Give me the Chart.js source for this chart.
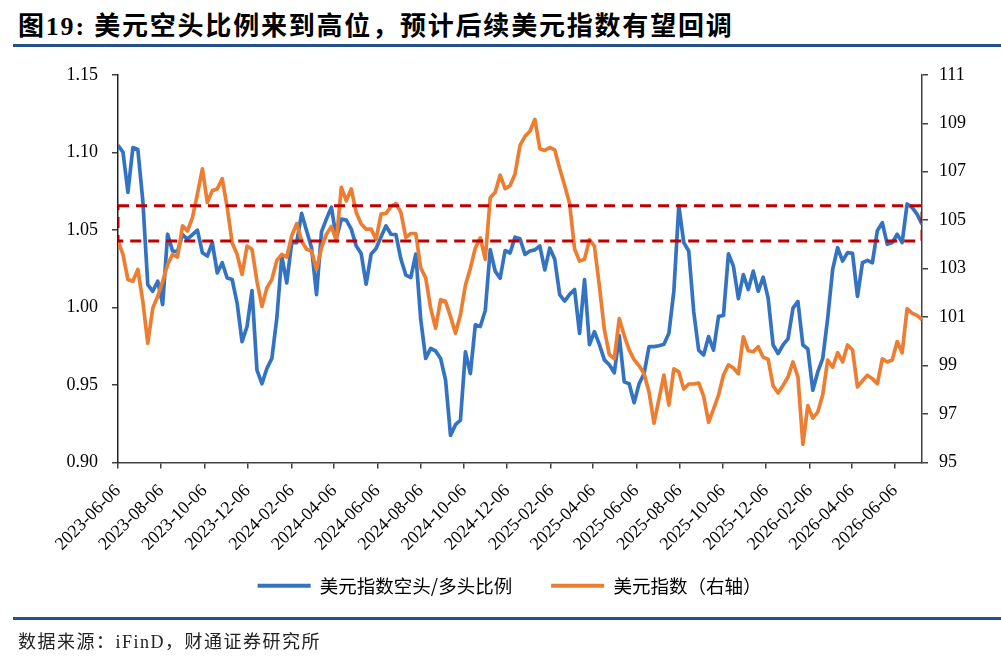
<!DOCTYPE html>
<html>
<head>
<meta charset="utf-8">
<script src="https://cdn.jsdelivr.net/npm/chart.js@4/dist/chart.umd.min.js"></script>
<style>
  html, body { margin: 0; padding: 0; background: #fff; }
  body { width: 1001px; height: 667px; position: relative; overflow: hidden; }
  #title {
    position: absolute; left: 18px; top: 14px;
    font: bold 26px/26px "Liberation Serif", "Noto Sans CJK SC", serif;
    letter-spacing: 1.8px; color: #000; white-space: nowrap;
  }
  .rule { position: absolute; left: 13px; right: 0; height: 3px; background: #24508c; }
  #source {
    position: absolute; left: 18px; top: 632px;
    font: 18px/20px "Liberation Serif", "Noto Sans CJK SC", serif;
    letter-spacing: 1.5px; color: #222; white-space: nowrap;
  }
  #chartBox { position: absolute; left: 0; top: 50px; width: 1001px; height: 589px; }
</style>
</head>
<body>
<div id="title">图19: 美元空头比例来到高位，预计后续美元指数有望回调</div>
<div class="rule" style="top:44px"></div>
<div id="chartBox"><canvas id="chart"></canvas></div>
<div class="rule" style="top:617px"></div>
<div id="source">数据来源：iFinD，财通证券研究所</div>

<script>
// weekly data, first week = 2023-06-06
const ratioValues = [
  1.1045, 1.1002, 1.0742, 1.1031, 1.1018, 1.0688, 1.0147, 1.0104, 1.0169, 1.0018,
  1.0472, 1.0364, 1.0360, 1.0470, 1.0440, 1.0470, 1.0498, 1.0353, 1.0331, 1.0418,
  1.0223, 1.0288, 1.0190, 1.0180, 1.0028, 0.9779, 0.9877, 1.0109, 0.9596, 0.9508,
  0.9606, 0.9671, 0.9930, 1.0331, 1.0158, 1.0418, 1.0418, 1.0606, 1.0494, 1.0385,
  1.0083, 1.0487, 1.0571, 1.0646, 1.0445, 1.0569, 1.0563, 1.0505, 1.0396, 1.0347,
  1.0150, 1.0344, 1.0380, 1.0455, 1.0526, 1.0472, 1.0470, 1.0312, 1.0208, 1.0193,
  1.0344, 0.9922, 0.9671, 0.9736, 0.9719, 0.9671, 0.9532, 0.9175, 0.9244, 0.9273,
  0.9714, 0.9573, 0.9888, 0.9877, 0.9980, 1.0373, 1.0234, 1.0188, 1.0367, 1.0351,
  1.0453, 1.0443, 1.0342, 1.0364, 1.0371, 1.0396, 1.0242, 1.0383, 1.0310, 1.0082,
  1.0041, 1.0084, 1.0115, 0.9833, 1.0180, 0.9760, 0.9844, 0.9760, 0.9662, 0.9630,
  0.9578, 0.9818, 0.9520, 0.9508, 0.9385, 0.9508, 0.9573, 0.9747, 0.9747, 0.9753,
  0.9762, 0.9833, 1.0104, 1.0656, 1.0418, 1.0364, 0.9974, 0.9725, 0.9693, 0.9812,
  0.9725, 0.9942, 0.9948, 1.0346, 1.0266, 1.0057, 1.0212, 1.0115, 1.0234, 1.0104,
  1.0195, 1.0060, 0.9758, 0.9703, 0.9758, 0.9797, 0.9995, 1.0039, 0.9758, 0.9732,
  0.9466, 0.9584, 0.9671, 0.9930, 1.0245, 1.0385, 1.0299, 1.0353, 1.0349, 1.0071,
  1.0288, 1.0303, 1.0288, 1.0494, 1.0547, 1.0407, 1.0418, 1.0472, 1.0418, 1.0667,
  1.0645, 1.0602, 1.0537
];

const dxyValues = [
  104.14, 103.59, 102.55, 102.48, 102.97, 101.65, 99.92, 101.37, 101.86, 102.48,
  103.17, 103.59, 103.48, 104.77, 104.56, 105.11, 106.08, 107.12, 105.73, 106.22,
  106.29, 106.71, 105.53, 104.07, 103.59, 102.76, 103.93, 103.80, 102.48, 101.44,
  102.20, 102.55, 103.34, 103.59, 103.48, 104.35, 104.86, 104.14, 103.80, 103.73,
  102.97, 103.86, 104.42, 104.74, 104.14, 106.36, 105.80, 106.29, 105.32, 104.84,
  104.63, 104.63, 104.21, 105.25, 105.28, 105.56, 105.69, 105.32, 104.28, 104.45,
  104.45, 103.03, 102.62, 101.37, 100.54, 101.72, 101.65, 101.02, 100.33, 101.10,
  102.31, 103.02, 103.85, 104.27, 103.38, 105.93, 106.15, 106.86, 106.30, 106.43,
  106.91, 108.09, 108.46, 108.67, 109.16, 107.95, 107.88, 108.00, 107.90, 107.13,
  106.43, 105.68, 103.81, 103.31, 103.39, 104.20, 103.93, 102.27, 100.48, 99.45,
  99.28, 100.94, 100.24, 99.65, 99.24, 98.99, 98.66, 97.91, 96.62, 97.62,
  98.61, 97.37, 98.86, 98.74, 98.03, 98.24, 98.24, 98.28, 97.74, 96.66,
  97.20, 97.78, 98.61, 99.03, 98.90, 98.66, 100.19, 99.61, 99.57, 99.78,
  99.34, 99.26, 98.16, 97.87, 98.18, 98.53, 99.15, 98.53, 95.75, 97.35,
  96.83, 97.08, 97.80, 99.23, 98.93, 99.53, 99.15, 99.85, 99.64, 98.12,
  98.37, 98.60, 98.46, 98.25, 99.28, 99.15, 99.23, 99.99, 99.53, 101.35,
  101.16, 101.07, 100.90
];

// high-zone band drawn as a dashed box on the left axis
const bandTop = 1.0656;
const bandBottom = 1.0429;

const tickLabels = [
  '2023-06-06', '2023-08-06', '2023-10-06', '2023-12-06', '2024-02-06', '2024-04-06',
  '2024-06-06', '2024-08-06', '2024-10-06', '2024-12-06', '2025-02-06', '2025-04-06',
  '2025-06-06', '2025-08-06', '2025-10-06', '2025-12-06', '2026-02-06', '2026-04-06',
  '2026-06-06'
];

const leftTicks = { min: 0.90, max: 1.15, step: 0.05 };
const rightTicks = { min: 95, max: 111, step: 2 };
const lastWeek = 162;

const BLUE = '#3473c2';
const ORANGE = '#ed7d31';
const RED = '#c00000';
const AXIS = '#404040';

const startDay = Date.UTC(2023, 5, 6);
const weekOf = (s) => {
  const [y, m, d] = s.split('-').map(Number);
  return (Date.UTC(y, m - 1, d) - startDay) / (7 * 864e5);
};
const tickWeeks = tickLabels.map(weekOf);

const toPoints = (vals) => vals.map((v, i) => ({ x: i, y: v }));
const bandPoints = [
  { x: 0, y: bandTop }, { x: lastWeek, y: bandTop },
  { x: lastWeek, y: bandBottom }, { x: 0, y: bandBottom }, { x: 0, y: bandTop }
];

const tickFont = { family: '"Liberation Serif", "Times New Roman", serif', size: 18 };

// x axis needs room for the slanted dates; pull the legend back up under them
const legendLift = {
  id: 'legendLift',
  afterLayout(chart) {
    const lg = chart.legend;
    lg.top -= 17;
    lg.bottom -= 17;
    lg.left += 9;
    lg.right += 9;
  }
};

new Chart(document.getElementById('chart'), {
  type: 'line',
  plugins: [legendLift],
  data: {
    datasets: [
      {
        label: '美元指数空头/多头比例',
        data: toPoints(ratioValues),
        yAxisID: 'y',
        borderColor: BLUE,
        backgroundColor: BLUE,
        borderWidth: 3.7,
        borderJoinStyle: 'round',
        pointRadius: 0,
        order: 2
      },
      {
        label: '美元指数（右轴）',
        data: toPoints(dxyValues),
        yAxisID: 'y1',
        borderColor: ORANGE,
        backgroundColor: ORANGE,
        borderWidth: 3.7,
        borderJoinStyle: 'round',
        pointRadius: 0,
        order: 1
      },
      {
        label: 'band',
        data: bandPoints,
        yAxisID: 'y',
        borderColor: RED,
        backgroundColor: RED,
        borderWidth: 3,
        borderDash: [11, 7],
        pointRadius: 0,
        order: 0
      }
    ]
  },
  options: {
    responsive: true,
    maintainAspectRatio: false,
    animation: false,
    events: [],
    layout: { padding: { top: 15, bottom: 17, left: 0, right: 0 } },
    plugins: {
      tooltip: { enabled: false },
      legend: {
        position: 'bottom',
        align: 'center',
        labels: {
          boxWidth: 53,
          boxHeight: 4,
          padding: 39,
          color: '#000',
          font: { family: '"Noto Sans CJK SC", sans-serif', size: 18.5 },
          generateLabels: (chart) =>
            Chart.defaults.plugins.legend.labels.generateLabels(chart)
              .filter(l => l.datasetIndex < 2)
              .sort((a, b) => a.datasetIndex - b.datasetIndex)
              .map(l => Object.assign(l, { lineWidth: 0 }))
        }
      }
    },
    scales: {
      x: {
        type: 'linear',
        min: 0,
        max: lastWeek,
        afterBuildTicks: (axis) => { axis.ticks = tickWeeks.map(v => ({ value: v })); },
        afterFit: (axis) => { axis.height = 92; },
        ticks: {
          autoSkip: false,
          minRotation: 45,
          maxRotation: 45,
          padding: 12,
          color: '#000',
          font: tickFont,
          callback: (v, i) => tickLabels[i]
        },
        grid: { drawOnChartArea: false, tickLength: 6, color: AXIS, lineWidth: 1.5 },
        border: { color: AXIS, width: 1.5 }
      },
      y: {
        position: 'left',
        min: leftTicks.min,
        max: leftTicks.max,
        afterFit: (axis) => { axis.width = 118; },
        ticks: {
          stepSize: leftTicks.step,
          padding: 14,
          color: '#000',
          font: tickFont,
          callback: (v) => v.toFixed(2)
        },
        grid: { drawOnChartArea: false, tickLength: 6, color: AXIS, lineWidth: 1.5 },
        border: { color: '#222', width: 1.5 }
      },
      y1: {
        position: 'right',
        min: rightTicks.min,
        max: rightTicks.max,
        afterFit: (axis) => { axis.width = 79; },
        ticks: {
          stepSize: rightTicks.step,
          padding: 11,
          color: '#000',
          font: tickFont
        },
        grid: { drawOnChartArea: false, tickLength: 6, color: AXIS, lineWidth: 1.5 },
        border: { color: AXIS, width: 1.5 }
      }
    }
  }
});
</script>
</body>
</html>
